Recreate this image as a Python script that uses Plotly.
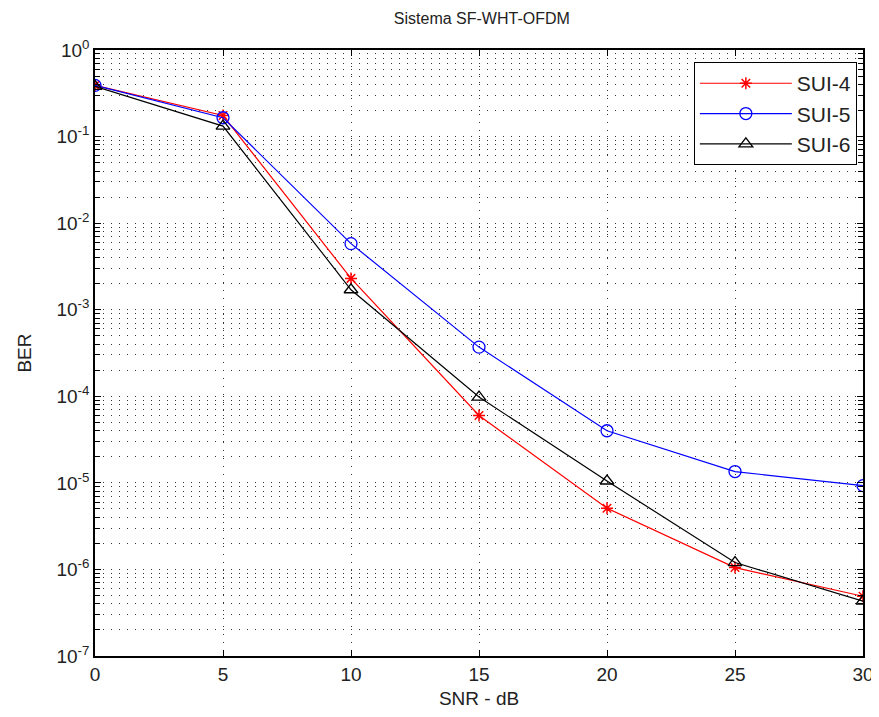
import plotly.graph_objects as go

snr = [0, 5, 10, 15, 20, 25, 30]
sui4 = [0.39, 0.175, 2.3e-3, 6.0e-5, 5.1e-6, 1.05e-6, 4.9e-7]
sui5 = [0.39, 0.165, 5.8e-3, 3.7e-4, 4.0e-5, 1.35e-5, 9.3e-6]
sui6 = [0.38, 0.132, 1.7e-3, 9.8e-5, 1.05e-5, 1.2e-6, 4.3e-7]

x_ticks = [0, 5, 10, 15, 20, 25, 30]
y_tickvals = [1, 1e-1, 1e-2, 1e-3, 1e-4, 1e-5, 1e-6, 1e-7]
y_ticktext = ["10<sup>0</sup>", "10<sup>-1</sup>", "10<sup>-2</sup>", "10<sup>-3</sup>",
              "10<sup>-4</sup>", "10<sup>-5</sup>", "10<sup>-6</sup>", "10<sup>-7</sup>"]

FONT = "Liberation Sans, Arial, sans-serif"

fig = go.Figure()
fig.add_trace(go.Scatter(x=snr, y=sui4, name="SUI-4", mode="lines+markers",
                         line=dict(color="#ff0000", width=1.2),
                         marker=dict(symbol="asterisk-open", size=10, color="#ff0000",
                                     line=dict(color="#ff0000", width=1.5))))
fig.add_trace(go.Scatter(x=snr, y=sui5, name="SUI-5", mode="lines+markers",
                         line=dict(color="#0000ff", width=1.2),
                         marker=dict(symbol="circle-open", size=12, color="#0000ff",
                                     line=dict(color="#0000ff", width=1.3))))
fig.add_trace(go.Scatter(x=snr, y=sui6, name="SUI-6", mode="lines+markers",
                         line=dict(color="#000000", width=1.2),
                         marker=dict(symbol="triangle-up-open", size=12, color="#000000",
                                     line=dict(color="#000000", width=1.3))))

grid_dash = "1px,7px"
fig.update_layout(
    width=871, height=701,
    paper_bgcolor="white", plot_bgcolor="white",
    margin=dict(l=87, r=16, t=42, b=53, autoexpand=False),
    font=dict(family=FONT, color="black"),
    title=dict(text="Sistema SF-WHT-OFDM", x=0.544, xanchor="center", y=0.985, yanchor="middle",
               font=dict(size=16, color="#222")),
    xaxis=dict(range=[0, 30], tickvals=x_ticks, ticks="inside", ticklen=6, tickcolor="black",
               showline=True, linecolor="black", linewidth=1.5, mirror="ticks",
               showgrid=True, gridcolor="#333", griddash=grid_dash, gridwidth=1,
               zeroline=False, tickfont=dict(size=19, color="#222"), automargin=False,
               title=dict(text="SNR - dB", font=dict(size=19, color="#222"), standoff=14)),
    yaxis=dict(type="log", range=[-7, 0], tickvals=y_tickvals, ticktext=y_ticktext,
               ticks="inside", ticklen=6, tickcolor="black",
               showline=True, linecolor="black", linewidth=1.5, mirror="ticks",
               showgrid=True, gridcolor="#333", griddash=grid_dash, gridwidth=1,
               zeroline=False, tickfont=dict(size=19, color="#222"), automargin=False,
               minor=dict(dtick="D1", ticks="inside", ticklen=5, tickcolor="black",
                          showgrid=True, gridcolor="#333", griddash=grid_dash, gridwidth=1),
               title=dict(text="BER", font=dict(size=19, color="#222"), standoff=20)),
    legend=dict(x=0.992, y=0.98, xanchor="right", yanchor="top",
                bgcolor="white", bordercolor="black", borderwidth=1,
                font=dict(size=21, color="#222"), itemwidth=92,
                tracegroupgap=0),
    showlegend=True,
)

fig.write_html("out.html")
